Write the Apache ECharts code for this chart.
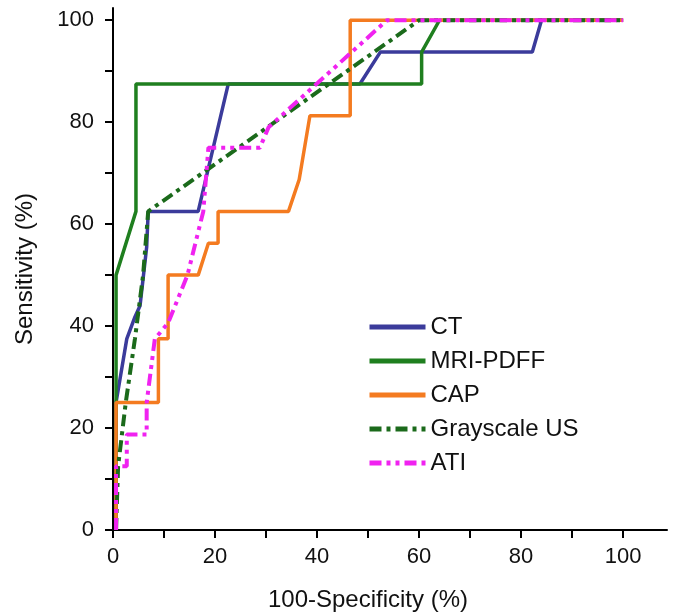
<!DOCTYPE html>
<html>
<head>
<meta charset="utf-8">
<script src="https://cdn.jsdelivr.net/npm/echarts@6/dist/echarts.min.js"></script>
<style>
  html, body { margin: 0; padding: 0; background: #fff; }
  #chart { width: 677px; height: 615px; }
</style>
</head>
<body>
<div id="chart"></div>
<script>
// ROC points: [100-specificity, sensitivity]
var ctPoints = [[0.6, 0], [0.6, 25], [2.7, 37.5], [4.3, 41.8], [5.3, 44], [6.6, 55.5], [6.9, 62.5], [16.7, 62.5], [22.6, 87.5], [48.4, 87.5], [52.4, 93.75], [82.2, 93.75], [84, 100], [100, 100]]
var mriPoints = [[0.6, 0], [0.6, 50], [4.5, 62.5], [4.5, 87.5], [60.5, 87.5], [60.5, 93.75], [64, 100], [100, 100]]
var capPoints = [[0.6, 0], [0.6, 25], [8.9, 25], [8.9, 37.5], [10.8, 37.5], [10.8, 50], [16.7, 50], [18.7, 56.25], [20.6, 56.25], [20.6, 62.5], [34.4, 62.5], [36.5, 68.75], [38.6, 81.25], [46.5, 81.25], [46.5, 100], [100, 100]]
var usPoints = [[0.6, 0], [1, 12.5], [2.5, 25], [4.3, 37.5], [5.9, 50], [6.9, 62.5], [60, 100], [100, 100]]
var atiPoints = [[0.6, 0], [0.6, 12.5], [2.7, 12.5], [2.7, 18.75], [6.6, 18.75], [6.6, 25], [8.2, 37.5], [10.8, 40.6], [14.6, 50], [17.7, 62.5], [18.7, 75], [28.8, 75], [30.5, 79], [53.7, 100], [100, 100]]

var seriesNames = ['CT', 'MRI-PDFF', 'CAP', 'Grayscale US', 'ATI']
var tickValues = [0, 10, 20, 30, 40, 50, 60, 70, 80, 90, 100]
var labelValues = [0, 20, 40, 60, 80, 100]

var font = 'Liberation Sans'

function line(name, data, color, width, type) {
  return {
    name: name,
    type: 'line',
    data: data,
    symbol: 'none',
    silent: true,
    animation: false,
    lineStyle: { color: color, width: width, type: type },
    itemStyle: { color: color }
  }
}

var chart = echarts.init(document.getElementById('chart'))
chart.setOption({
  backgroundColor: '#fff',
  grid: { left: 113, right: 10, top: 8, bottom: 85, outerBoundsMode: 'none' },
  legend: {
    data: seriesNames,
    orient: 'vertical',
    left: 362,
    top: 310,
    itemWidth: 56,
    itemHeight: 14,
    itemGap: 10,
    itemStyle: { opacity: 0 },
    lineStyle: { width: 5 },
    textStyle: { fontFamily: font, fontSize: 24, color: '#111' }
  },
  xAxis: {
    type: 'value',
    min: 0,
    max: 108.6,
    name: '100-Specificity (%)',
    nameLocation: 'middle',
    nameGap: 58,
    nameTextStyle: { fontFamily: font, fontSize: 24, color: '#111', padding: [0, 44, 0, 0] },
    splitLine: { show: false },
    axisLine: { lineStyle: { color: '#000', width: 2 } },
    axisTick: { show: true, length: 8, lineStyle: { color: '#000', width: 2 }, customValues: tickValues },
    axisLabel: { fontFamily: font, fontSize: 22, color: '#111', margin: 16, customValues: labelValues }
  },
  yAxis: {
    type: 'value',
    min: 0,
    max: 102.4,
    name: 'Sensitivity (%)',
    nameLocation: 'middle',
    nameGap: 76,
    nameTextStyle: { fontFamily: font, fontSize: 24, color: '#111' },
    splitLine: { show: false },
    axisLine: { show: true, lineStyle: { color: '#000', width: 2 } },
    axisTick: { show: true, length: 8, lineStyle: { color: '#000', width: 2 }, customValues: tickValues },
    axisLabel: { fontFamily: font, fontSize: 22, color: '#111', margin: 19, customValues: labelValues }
  },
  series: [
    line('CT', ctPoints, '#3b3b9b', 3.5, 'solid'),
    line('MRI-PDFF', mriPoints, '#1f7f1f', 3.5, 'solid'),
    line('CAP', capPoints, '#f47b20', 3.5, 'solid'),
    line('Grayscale US', usPoints, '#1b6a1b', 4, [12, 5, 4, 5]),
    line('ATI', atiPoints, '#f022f0', 4, [12, 5, 4, 5, 4, 5])
  ]
})
</script>
</body>
</html>
